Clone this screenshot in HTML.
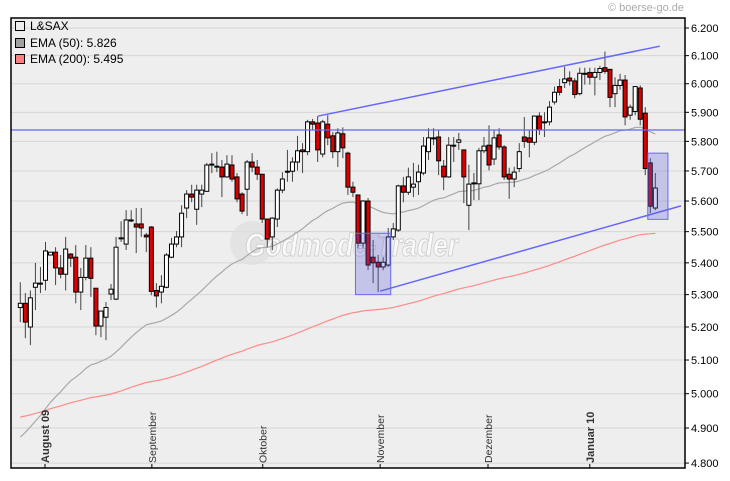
<!DOCTYPE html>
<html><head><meta charset="utf-8">
<style>
html,body{margin:0;padding:0;background:#fff;}
svg{display:block;font-family:"Liberation Sans",sans-serif;}
</style></head>
<body>
<svg id="chart" width="730" height="481" viewBox="0 0 730 481">
  <text x="684" y="11" font-size="11" fill="#aaa" text-anchor="end">© boerse-go.de</text>
  <rect x="11" y="18" width="674" height="450" fill="#eeeeee" stroke="none"/>
  <g id="grid"></g>
  <g id="watermark">
    <circle cx="252" cy="243" r="22" fill="#e0e0e0" opacity="0.8"/>
    <text x="245" y="256" font-size="32" font-weight="bold" font-style="italic" fill="#fafafa" stroke="#cfcfcf" stroke-width="1" textLength="213" lengthAdjust="spacingAndGlyphs">Godmode-Trader</text>
  </g>
  <g id="ema"></g>
  <g id="candles"></g>
  <g id="overlay"></g>
  <rect x="11" y="18" width="674" height="450" fill="none" stroke="#000" stroke-width="1.5"/>
  <g id="yaxis"></g>
  <g id="xaxis"></g>
  <g>
    <rect x="15.5" y="21.5" width="9" height="9" fill="#eee" stroke="#000"/>
    <text x="30" y="30" font-size="12" fill="#000">L&amp;SAX</text>
    <rect x="15.5" y="38.5" width="9" height="9" fill="#a0a0a0" stroke="#000"/>
    <text x="30" y="47" font-size="12" fill="#000">EMA (50): 5.826</text>
    <rect x="15.5" y="54.5" width="9" height="9" fill="#ff8080" stroke="#000"/>
    <text x="30" y="63" font-size="12" fill="#000">EMA (200): 5.495</text>
  </g>
</svg>
<script>
const opens=[5.260,5.273,5.200,5.323,5.336,5.345,5.425,5.434,5.384,5.364,5.428,5.418,5.308,5.354,5.415,5.320,5.203,5.230,5.302,5.286,5.480,5.460,5.538,5.525,5.525,5.489,5.515,5.313,5.308,5.323,5.418,5.460,5.483,5.577,5.623,5.573,5.623,5.632,5.723,5.716,5.713,5.680,5.720,5.680,5.623,5.639,5.730,5.713,5.689,5.541,5.483,5.541,5.636,5.699,5.699,5.730,5.771,5.765,5.867,5.863,5.757,5.859,5.819,5.765,5.826,5.760,5.646,5.620,5.463,5.600,5.418,5.402,5.387,5.393,5.483,5.505,5.650,5.629,5.646,5.664,5.693,5.765,5.812,5.815,5.716,5.680,5.787,5.797,5.771,5.586,5.660,5.657,5.768,5.787,5.740,5.822,5.781,5.689,5.673,5.708,5.815,5.812,5.797,5.887,5.867,5.867,5.936,5.990,6.004,6.020,6.010,5.965,6.037,6.040,6.023,6.040,6.057,6.051,5.965,5.994,6.013,5.890,5.903,5.985,5.897,5.727,5.577];
const highs=[5.339,5.305,5.313,5.400,5.387,5.467,5.434,5.450,5.425,5.483,5.431,5.457,5.384,5.457,5.450,5.320,5.249,5.277,5.333,5.483,5.534,5.570,5.570,5.577,5.577,5.496,5.518,5.336,5.361,5.431,5.480,5.502,5.586,5.636,5.654,5.654,5.654,5.727,5.760,5.765,5.737,5.753,5.753,5.693,5.629,5.737,5.760,5.737,5.689,5.541,5.547,5.642,5.696,5.771,5.746,5.819,5.794,5.874,5.877,5.887,5.874,5.890,5.832,5.845,5.848,5.765,5.664,5.620,5.603,5.610,5.473,5.425,5.418,5.512,5.528,5.654,5.680,5.711,5.727,5.721,5.815,5.845,5.845,5.839,5.737,5.815,5.815,5.829,5.771,5.721,5.693,5.778,5.815,5.855,5.839,5.845,5.787,5.711,5.714,5.794,5.884,5.839,5.887,5.900,5.900,5.939,5.990,6.017,6.060,6.044,6.020,6.057,6.057,6.057,6.057,6.064,6.115,6.051,6.023,6.035,6.031,5.927,5.990,5.994,5.918,5.743,5.693];
const lows=[5.215,5.166,5.145,5.252,5.305,5.313,5.425,5.330,5.351,5.313,5.387,5.273,5.252,5.345,5.293,5.175,5.169,5.160,5.283,5.283,5.467,5.441,5.531,5.431,5.483,5.434,5.298,5.260,5.273,5.320,5.415,5.450,5.450,5.544,5.596,5.522,5.580,5.632,5.693,5.696,5.613,5.677,5.664,5.596,5.557,5.551,5.696,5.670,5.528,5.450,5.441,5.515,5.626,5.664,5.664,5.702,5.693,5.753,5.839,5.730,5.746,5.787,5.743,5.713,5.743,5.620,5.613,5.447,5.447,5.377,5.336,5.308,5.377,5.387,5.473,5.499,5.596,5.620,5.613,5.620,5.686,5.737,5.787,5.686,5.636,5.677,5.730,5.771,5.593,5.505,5.603,5.603,5.760,5.702,5.720,5.771,5.670,5.607,5.646,5.696,5.778,5.746,5.787,5.822,5.815,5.855,5.927,5.959,5.985,5.994,5.949,5.959,5.997,5.997,5.959,6.013,6.035,5.918,5.918,5.979,5.855,5.874,5.890,5.855,5.686,5.560,5.570];
const closes=[5.273,5.215,5.290,5.336,5.336,5.438,5.434,5.384,5.364,5.444,5.415,5.308,5.354,5.415,5.351,5.203,5.249,5.260,5.317,5.450,5.480,5.538,5.538,5.515,5.512,5.483,5.310,5.296,5.326,5.425,5.460,5.483,5.560,5.623,5.613,5.636,5.636,5.720,5.723,5.716,5.680,5.723,5.673,5.607,5.567,5.730,5.713,5.689,5.541,5.476,5.544,5.636,5.673,5.699,5.730,5.768,5.765,5.867,5.859,5.771,5.867,5.812,5.765,5.829,5.778,5.646,5.629,5.463,5.600,5.393,5.400,5.387,5.402,5.483,5.509,5.650,5.629,5.680,5.656,5.696,5.784,5.812,5.812,5.734,5.680,5.787,5.787,5.805,5.680,5.656,5.660,5.768,5.784,5.720,5.812,5.781,5.680,5.673,5.696,5.765,5.800,5.797,5.887,5.839,5.867,5.918,5.970,5.970,6.017,6.010,5.962,6.037,6.037,6.023,6.040,6.054,6.044,5.952,5.994,6.013,5.884,5.918,5.990,5.876,5.708,5.583,5.643];
const ema50Start=4.874;
const ema200Start=4.932;
const yTicks=[6.2,6.1,6.0,5.9,5.8,5.7,5.6,5.5,5.4,5.3,5.2,5.1,5.0,4.9,4.8];
const monthLabels=["August 09","September","Oktober","November","Dezember","Januar 10"];
const monthIndex=[4.9,26.1,48.1,71.4,92.8,113];
const monthBold=[true,false,false,false,false,true];
const hLineValue=5.839;
const upperTrend=[[59.1,5.887],[126.9,6.134]];
const lowerTrend=[[71.4,5.311],[131.1,5.584]];
const boxes=[[66.5,73.5,5.495,5.300],[124.5,128.5,5.760,5.540]];

const NS="http://www.w3.org/2000/svg";
function xs(i){return 20.3+i*5.04;}
function ys(v){return 28+1700*Math.log(6.2/v);}
function mk(tag,attrs,parent){const e=document.createElementNS(NS,tag);for(const k in attrs)e.setAttribute(k,attrs[k]);parent.appendChild(e);return e;}
const grid=document.getElementById('grid'),yax=document.getElementById('yaxis'),xax=document.getElementById('xaxis');
yTicks.forEach(v=>{
  const l=mk('line',{x1:11,x2:685,y1:ys(v),y2:ys(v),stroke:'#d6d6d6','stroke-width':1},grid);
  
  
  const tk=mk('line',{x1:685,x2:689,y1:ys(v),y2:ys(v),stroke:'#000'},yax);
  
  
  const t=mk('text',{x:691,y:ys(v)+4,'font-size':11,fill:'#000'},yax);
  t.textContent=v.toFixed(3);
  
  
});
monthLabels.forEach((m,k)=>{
  const x=xs(monthIndex[k]);
  const tk=mk('line',{x1:x,x2:x,y1:464,y2:468,stroke:'#000'},xax);
  
  
  const t=mk('text',{x:0,y:0,'font-size':monthBold[k]?11:10.5,'font-weight':monthBold[k]?'bold':'normal',fill:'#333',transform:`translate(${x+4},463) rotate(-90)`},xax);
  t.textContent=m;
  
  
});
function ema(start,n){const a=2/(n+1);let e=start;return closes.map((c,i)=>{if(i>0)e=e+a*(c-e);return e;});}
const emaG=document.getElementById('ema');
[[ema(ema200Start,200),'#ff8a8a','ema200-line'],[ema(ema50Start,50),'#a8a8a8','ema50-line']].forEach(([s,col,nm])=>{
  const p=mk('polyline',{points:s.map((v,i)=>xs(i).toFixed(1)+','+ys(v).toFixed(1)).join(' '),fill:'none',stroke:col,'stroke-width':1.2},emaG);
  
  
});
const cg=document.getElementById('candles');
closes.forEach((c,i)=>{
  const o=opens[i],x=xs(i);
  const g=mk('g',{},cg);
  
  
  mk('line',{x1:x,x2:x,y1:ys(highs[i]),y2:ys(lows[i]),stroke:'#444','stroke-width':1},g);
  const top=ys(Math.max(o,c)),bot=ys(Math.min(o,c));
  mk('rect',{x:x-2,y:top,width:4,height:Math.max(bot-top,1),fill:c<o?'#dd0000':'#ffffff',stroke:'#000','stroke-width':1},g);
});
const ov=document.getElementById('overlay');
const hl=mk('line',{x1:11,x2:685,y1:ys(hLineValue),y2:ys(hLineValue),stroke:'#6666ff','stroke-width':1.2},ov);


[[upperTrend,'upper-trend-line'],[lowerTrend,'lower-trend-line']].forEach(([t,nm])=>{
  const l=mk('line',{x1:xs(t[0][0]),y1:ys(t[0][1]),x2:xs(t[1][0]),y2:ys(t[1][1]),stroke:'#6666ff','stroke-width':1.5},ov);
  
  
});
boxes.forEach(b=>{
  const x1=xs(b[0]),x2=xs(b[1]),y1=ys(b[2]),y2=ys(b[3]);
  const r=mk('rect',{x:x1,y:y1,width:x2-x1,height:y2-y1,fill:'rgba(90,90,220,0.28)',stroke:'#6a6aee','stroke-width':1},ov);
  
  
});
</script>
</body></html>
